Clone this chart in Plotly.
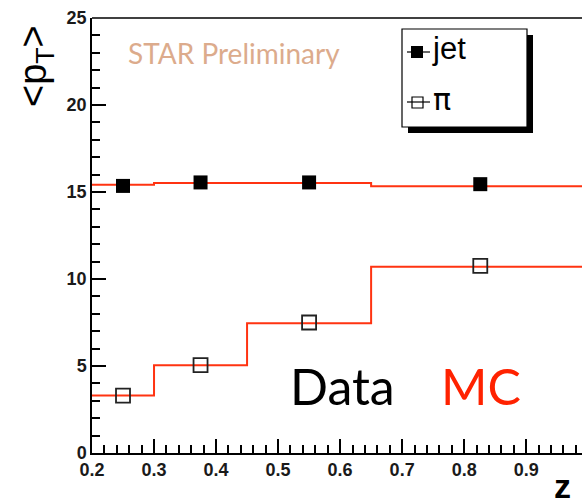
import plotly.graph_objects as go

# Data
z_points = [0.25, 0.375, 0.55, 0.826]
jet_data = [15.35, 15.55, 15.55, 15.45]
pi_data = [3.3, 5.05, 7.5, 10.75]

mc_edges = [0.2, 0.3, 0.45, 0.65, 1.0]
jet_mc = [15.42, 15.52, 15.52, 15.33]
pi_mc = [3.3, 5.05, 7.45, 10.7]

x_ticks = [0.2, 0.3, 0.4, 0.5, 0.6, 0.7, 0.8, 0.9]
y_ticks = [0, 5, 10, 15, 20, 25]

RED = "#ff3311"

fig = go.Figure()

for vals in (jet_mc, pi_mc):
    fig.add_trace(go.Scatter(
        x=mc_edges, y=list(vals) + [vals[-1]], mode="lines", line_shape="hv",
        line=dict(color=RED, width=2), showlegend=False, hoverinfo="skip"))

fig.add_trace(go.Scatter(
    x=z_points, y=jet_data, mode="markers", name="jet",
    marker=dict(symbol="square", size=14, color="black", line=dict(width=0)),
    showlegend=False))
fig.add_trace(go.Scatter(
    x=z_points, y=pi_data, mode="markers", name="π",
    marker=dict(symbol="square-open", size=14, color="#222", line=dict(width=1.8)),
    showlegend=False))

L, B, W, H = 92, 47, 490, 435


def px(x):
    return (x - L) / W


def py(y):
    return (500 - B - y) / H


shapes = []
# top frame line
shapes.append(dict(type="line", xref="paper", yref="paper",
                   x0=0, x1=1, y0=1, y1=1,
                   line=dict(color="black", width=1.5), layer="above"))
# legend shadow and box
shapes.append(dict(type="rect", xref="paper", yref="paper",
                   x0=px(408), x1=px(533), y0=py(133), y1=py(35),
                   fillcolor="black", line=dict(width=0), layer="above"))
shapes.append(dict(type="rect", xref="paper", yref="paper",
                   x0=px(402), x1=px(527), y0=py(127), y1=py(29),
                   fillcolor="white", line=dict(color="black", width=1.2), layer="above"))
# legend glyphs
shapes.append(dict(type="line", xref="paper", yref="paper",
                   x0=px(407), x1=px(430), y0=py(52), y1=py(52),
                   line=dict(color="black", width=1.2), layer="above"))
shapes.append(dict(type="rect", xref="paper", yref="paper",
                   x0=px(411), x1=px(423), y0=py(58), y1=py(46),
                   fillcolor="black", line=dict(width=0), layer="above"))
shapes.append(dict(type="line", xref="paper", yref="paper",
                   x0=px(407), x1=px(430), y0=py(102), y1=py(102),
                   line=dict(color="black", width=1.2), layer="above"))
shapes.append(dict(type="rect", xref="paper", yref="paper",
                   x0=px(412), x1=px(423), y0=py(108), y1=py(97),
                   fillcolor="rgba(0,0,0,0)", line=dict(color="black", width=1.2), layer="above"))

annotations = [
    dict(text="jet", x=px(430), y=py(49), xref="paper", yref="paper",
         xanchor="left", yanchor="middle", showarrow=False,
         font=dict(family="Liberation Sans", size=31, color="black")),
    dict(text="π", x=px(431), y=py(100), xref="paper", yref="paper",
         xanchor="left", yanchor="middle", showarrow=False,
         font=dict(family="DejaVu Sans", size=30, color="black")),
    dict(text="STAR Preliminary", x=px(126), y=py(53), xref="paper", yref="paper",
         xanchor="left", yanchor="middle", showarrow=False,
         font=dict(family="Lato", size=28, color="#dcab8c")),
    dict(text="Data", x=px(288), y=py(386), xref="paper", yref="paper",
         xanchor="left", yanchor="middle", showarrow=False,
         font=dict(family="Lato", size=50, color="black")),
    dict(text="MC", x=px(439), y=py(386), xref="paper", yref="paper",
         xanchor="left", yanchor="middle", showarrow=False,
         font=dict(family="Lato", size=50, color="#ff2200")),
    dict(text="&lt;p<sub>T</sub>&gt;", x=px(36), y=py(66), xref="paper", yref="paper",
         xanchor="center", yanchor="middle", showarrow=False, textangle=-90,
         font=dict(family="Liberation Sans", size=38, color="black")),
    dict(text="z", x=px(562), y=py(486), xref="paper", yref="paper",
         xanchor="center", yanchor="middle", showarrow=False,
         font=dict(family="Liberation Sans", size=34, color="black", weight="bold")),
]

tickfont = dict(family="Liberation Sans", size=18, color="#1a1a1a", weight="bold")

fig.update_layout(
    width=582, height=500,
    margin=dict(l=L, r=0, t=18, b=B),
    paper_bgcolor="white", plot_bgcolor="white",
    shapes=shapes, annotations=annotations,
    showlegend=False,
    xaxis=dict(range=[0.2, 0.99], tickvals=x_ticks,
               ticktext=[f"{v:.1f}" for v in x_ticks],
               ticks="inside", ticklen=14, tickwidth=1.5, tickcolor="black",
               minor=dict(dtick=0.02, tick0=0.2, ticks="inside", ticklen=8,
                          tickwidth=1.5, tickcolor="black", showgrid=False),
               showline=True, linecolor="black", linewidth=1.5,
               showgrid=False, zeroline=False, tickfont=tickfont),
    yaxis=dict(range=[0, 25], tickvals=y_ticks, ticktext=[str(v) for v in y_ticks],
               ticks="inside", ticklen=14, tickwidth=1.5, tickcolor="black",
               minor=dict(dtick=1, ticks="inside", ticklen=8, tickwidth=1.5,
                          tickcolor="black", showgrid=False),
               showline=True, linecolor="black", linewidth=1.5,
               showgrid=False, zeroline=False, tickfont=tickfont),
)

fig.write_html("out.html")
